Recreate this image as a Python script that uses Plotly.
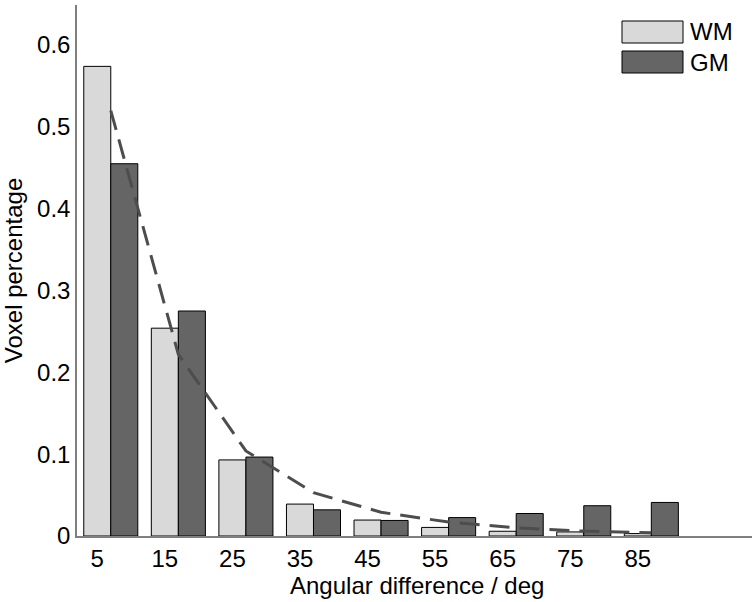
import plotly.graph_objects as go

categories = [5, 15, 25, 35, 45, 55, 65, 75, 85]
wm_values = [0.574, 0.254, 0.093, 0.039, 0.0195, 0.0105, 0.0058, 0.005, 0.003]
gm_values = [0.455, 0.275, 0.0965, 0.032, 0.019, 0.0225, 0.0275, 0.037, 0.041]
fit_x = [7, 17, 27, 37, 47, 57, 67, 77, 87]
fit_values = [0.52, 0.222, 0.104, 0.053, 0.029, 0.017, 0.010, 0.006, 0.004]
y_ticks = [0, 0.1, 0.2, 0.3, 0.4, 0.5, 0.6]
y_tick_labels = ["0", "0.1", "0.2", "0.3", "0.4", "0.5", "0.6"]

FONT = "Liberation Sans, Arial, Helvetica, sans-serif"
FS = 24
W, H = 756, 602
ML, MR, MT, MB = 77, 4, 5, 66

fig = go.Figure()
fig.add_trace(go.Bar(x=categories, y=wm_values, width=4, offset=-2, name="WM",
                     marker=dict(color="#d9d9d9", line=dict(color="#000000", width=1))))
fig.add_trace(go.Bar(x=categories, y=gm_values, width=4, offset=2, name="GM",
                     marker=dict(color="#656565", line=dict(color="#000000", width=1))))
fig.add_trace(go.Scatter(x=fit_x, y=fit_values, mode="lines", name="fit",
                         line=dict(color="#4d4d4d", width=3, dash="20px,10px")))

def px_x(p):
    return (p - ML) / (W - ML - MR)

def px_y(p):
    return 1 - (p - MT) / (H - MT - MB)

shapes = []
annotations = []
for (label, color, y0, y1) in [("WM", "#d9d9d9", 21, 43), ("GM", "#656565", 51, 73)]:
    shapes.append(dict(type="rect", xref="paper", yref="paper",
                       x0=px_x(622), x1=px_x(683), y0=px_y(y1), y1=px_y(y0),
                       fillcolor=color, line=dict(color="#000000", width=1)))
    annotations.append(dict(xref="paper", yref="paper", x=px_x(688), y=px_y((y0 + y1) / 2),
                            text=label, showarrow=False, xanchor="left", yanchor="middle",
                            font=dict(family=FONT, size=FS, color="#000000")))

# x-axis title placed as text annotation for precise vertical placement
annotations.append(dict(xref="paper", yref="paper", x=px_x(417), y=px_y(585),
                        text="Angular difference / deg", showarrow=False,
                        xanchor="center", yanchor="middle",
                        font=dict(family=FONT, size=FS, color="#000000")))

fig.update_layout(
    width=W, height=H,
    margin=dict(l=ML, r=MR, t=MT, b=MB, autoexpand=False),
    plot_bgcolor="white", paper_bgcolor="white",
    barmode="overlay",
    showlegend=False,
    shapes=shapes,
    annotations=annotations,
    font=dict(family=FONT, size=FS, color="#000000"),
    xaxis=dict(range=[2, 101.9], tickmode="array", tickvals=categories,
               ticktext=[str(c) for c in categories], showgrid=False, zeroline=False,
               showline=True, linecolor="#7f7f7f", linewidth=1.5, ticks="",
               tickfont=dict(family=FONT, size=FS), automargin=False),
    yaxis=dict(range=[0, 0.649], tickmode="array", tickvals=y_ticks, ticktext=y_tick_labels,
               showgrid=False, zeroline=False, showline=True, linecolor="#7f7f7f", linewidth=1.5,
               ticks="", tickfont=dict(family=FONT, size=FS), automargin=False,
               title=dict(text="Voxel percentage", font=dict(family=FONT, size=FS), standoff=10)),
)

fig.write_html("out.html", config={"displayModeBar": False},
               post_script="document.body.style.margin='0';")
